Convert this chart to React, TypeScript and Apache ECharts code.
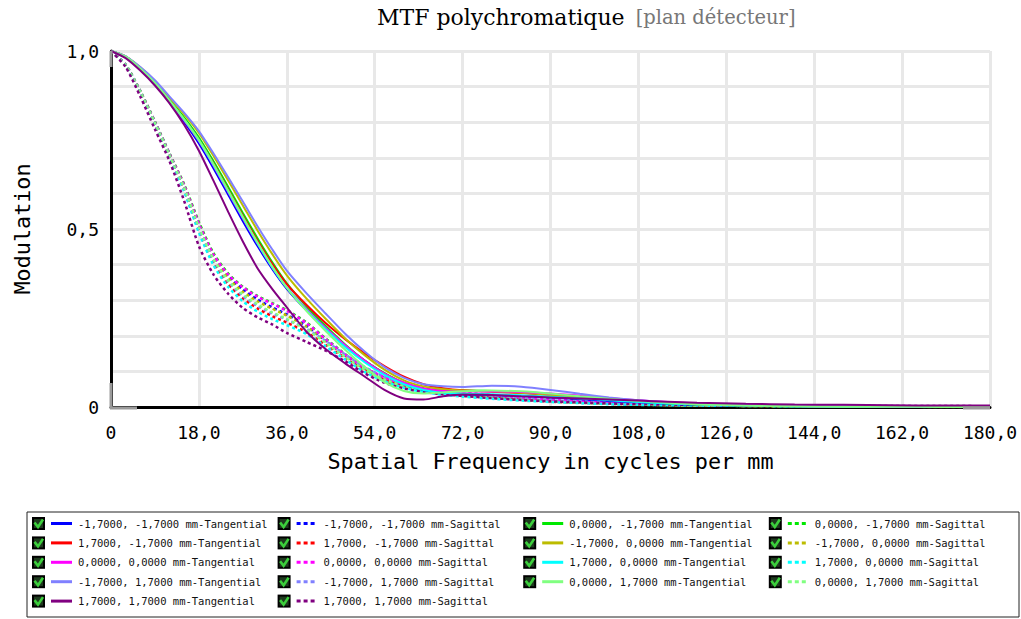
import React, { useEffect, useRef } from "react";
import * as echarts from "echarts";

// Spatial frequency (cycles/mm)
const FREQ = [0, 3, 6, 9, 12, 15, 18, 21, 24, 27, 30, 33, 36, 40, 44, 48, 52, 56, 60, 64, 68, 72, 78, 84, 90, 96, 102, 108, 114, 120, 130, 140, 150, 160, 170, 180];

const X_TICKS = [0, 18, 36, 54, 72, 90, 108, 126, 144, 162, 180];
const Y_LABELED = [0, 0.5, 1];

const FIELDS = [
  "-1,7000, -1,7000 mm",
  "0,0000, -1,7000 mm",
  "1,7000, -1,7000 mm",
  "-1,7000, 0,0000 mm",
  "0,0000, 0,0000 mm",
  "1,7000, 0,0000 mm",
  "-1,7000, 1,7000 mm",
  "0,0000, 1,7000 mm",
  "1,7000, 1,7000 mm",
];

// Tangential MTF per field
const T_M17_M17 = [1, 0.983, 0.95, 0.907, 0.855, 0.8, 0.74, 0.67, 0.596, 0.522, 0.452, 0.388, 0.332, 0.272, 0.22, 0.172, 0.13, 0.094, 0.066, 0.048, 0.04, 0.036, 0.034, 0.031, 0.027, 0.022, 0.017, 0.013, 0.009, 0.006, 0.004, 0.002, 0.001, 0.001, 0, 0];
const T_0_M17 = [1, 0.984, 0.952, 0.912, 0.863, 0.813, 0.757, 0.69, 0.618, 0.545, 0.474, 0.407, 0.347, 0.283, 0.227, 0.175, 0.13, 0.095, 0.068, 0.052, 0.046, 0.046, 0.045, 0.041, 0.035, 0.028, 0.021, 0.015, 0.01, 0.007, 0.004, 0.002, 0.001, 0.001, 0, 0];
const T_17_M17 = [1, 0.984, 0.951, 0.91, 0.86, 0.807, 0.75, 0.683, 0.61, 0.537, 0.467, 0.402, 0.345, 0.287, 0.235, 0.19, 0.15, 0.115, 0.085, 0.064, 0.053, 0.047, 0.043, 0.039, 0.034, 0.028, 0.022, 0.016, 0.011, 0.008, 0.005, 0.003, 0.002, 0.001, 0, 0];
const T_M17_0 = [1, 0.985, 0.954, 0.916, 0.869, 0.822, 0.77, 0.705, 0.636, 0.566, 0.496, 0.43, 0.37, 0.305, 0.247, 0.192, 0.145, 0.105, 0.075, 0.058, 0.05, 0.046, 0.044, 0.04, 0.034, 0.028, 0.022, 0.016, 0.011, 0.008, 0.005, 0.003, 0.002, 0.001, 0.001, 0];
const T_0_0 = [1, 0.984, 0.951, 0.909, 0.858, 0.805, 0.747, 0.678, 0.604, 0.53, 0.459, 0.393, 0.336, 0.275, 0.222, 0.173, 0.13, 0.094, 0.068, 0.052, 0.045, 0.043, 0.044, 0.042, 0.038, 0.032, 0.025, 0.019, 0.014, 0.01, 0.006, 0.003, 0.002, 0.001, 0, 0];
const T_17_0 = [1, 0.984, 0.951, 0.91, 0.86, 0.807, 0.749, 0.68, 0.606, 0.532, 0.46, 0.393, 0.335, 0.272, 0.218, 0.168, 0.125, 0.09, 0.064, 0.048, 0.04, 0.037, 0.036, 0.033, 0.029, 0.024, 0.019, 0.014, 0.01, 0.007, 0.004, 0.002, 0.001, 0.001, 0, 0];
const T_M17_17 = [1, 0.985, 0.955, 0.918, 0.872, 0.826, 0.775, 0.712, 0.645, 0.577, 0.508, 0.443, 0.383, 0.32, 0.262, 0.205, 0.155, 0.112, 0.082, 0.064, 0.058, 0.056, 0.06, 0.057, 0.048, 0.037, 0.027, 0.019, 0.013, 0.009, 0.005, 0.003, 0.002, 0.001, 0.001, 0];
const T_0_17 = [1, 0.984, 0.951, 0.91, 0.86, 0.808, 0.75, 0.682, 0.608, 0.534, 0.462, 0.395, 0.335, 0.27, 0.213, 0.16, 0.112, 0.07, 0.045, 0.038, 0.041, 0.044, 0.046, 0.044, 0.038, 0.03, 0.023, 0.017, 0.012, 0.008, 0.004, 0.002, 0.001, 0.001, 0, 0];
const T_17_17 = [1, 0.98, 0.945, 0.903, 0.853, 0.792, 0.72, 0.635, 0.548, 0.465, 0.39, 0.332, 0.28, 0.212, 0.162, 0.122, 0.085, 0.048, 0.024, 0.021, 0.03, 0.035, 0.034, 0.03, 0.027, 0.024, 0.021, 0.018, 0.015, 0.012, 0.009, 0.007, 0.006, 0.005, 0.004, 0.004];

// Sagittal MTF per field
const S_M17_M17 = [1, 0.961, 0.886, 0.8, 0.71, 0.62, 0.512, 0.425, 0.368, 0.33, 0.302, 0.28, 0.26, 0.228, 0.186, 0.145, 0.108, 0.08, 0.061, 0.048, 0.04, 0.034, 0.027, 0.021, 0.016, 0.012, 0.009, 0.007, 0.006, 0.005, 0.004, 0.003, 0.002, 0.002, 0.001, 0.001];
const S_0_M17 = [1, 0.962, 0.888, 0.802, 0.712, 0.625, 0.52, 0.432, 0.375, 0.338, 0.312, 0.292, 0.272, 0.238, 0.192, 0.148, 0.11, 0.083, 0.065, 0.052, 0.045, 0.04, 0.034, 0.028, 0.022, 0.018, 0.014, 0.011, 0.009, 0.007, 0.005, 0.003, 0.002, 0.002, 0.001, 0.001];
const S_17_M17 = [1, 0.959, 0.882, 0.794, 0.702, 0.608, 0.495, 0.405, 0.345, 0.305, 0.277, 0.255, 0.237, 0.21, 0.174, 0.137, 0.102, 0.076, 0.058, 0.045, 0.037, 0.032, 0.026, 0.02, 0.015, 0.012, 0.009, 0.007, 0.005, 0.004, 0.003, 0.002, 0.001, 0.001, 0, 0];
const S_M17_0 = [1, 0.96, 0.885, 0.798, 0.708, 0.618, 0.508, 0.42, 0.362, 0.324, 0.297, 0.276, 0.257, 0.226, 0.185, 0.144, 0.107, 0.08, 0.06, 0.047, 0.039, 0.034, 0.028, 0.022, 0.017, 0.013, 0.01, 0.008, 0.006, 0.005, 0.003, 0.002, 0.001, 0.001, 0, 0];
const S_0_0 = [1, 0.961, 0.886, 0.8, 0.71, 0.622, 0.515, 0.428, 0.372, 0.336, 0.31, 0.29, 0.27, 0.236, 0.19, 0.147, 0.11, 0.083, 0.064, 0.051, 0.044, 0.039, 0.033, 0.027, 0.021, 0.017, 0.013, 0.01, 0.008, 0.006, 0.004, 0.003, 0.002, 0.001, 0.001, 0.001];
const S_17_0 = [1, 0.959, 0.881, 0.792, 0.7, 0.605, 0.49, 0.398, 0.337, 0.297, 0.268, 0.247, 0.23, 0.205, 0.17, 0.133, 0.098, 0.072, 0.054, 0.042, 0.034, 0.029, 0.023, 0.018, 0.014, 0.011, 0.008, 0.006, 0.005, 0.004, 0.003, 0.002, 0.001, 0.001, 0, 0];
const S_M17_17 = [1, 0.96, 0.884, 0.797, 0.706, 0.614, 0.503, 0.413, 0.352, 0.312, 0.284, 0.263, 0.245, 0.22, 0.185, 0.147, 0.112, 0.085, 0.065, 0.051, 0.042, 0.036, 0.03, 0.024, 0.019, 0.015, 0.011, 0.009, 0.007, 0.005, 0.004, 0.003, 0.002, 0.001, 0.001, 0];
const S_0_17 = [1, 0.96, 0.884, 0.797, 0.706, 0.615, 0.505, 0.415, 0.355, 0.316, 0.288, 0.266, 0.247, 0.218, 0.18, 0.14, 0.104, 0.077, 0.058, 0.045, 0.037, 0.032, 0.026, 0.021, 0.016, 0.012, 0.009, 0.007, 0.005, 0.004, 0.003, 0.002, 0.001, 0.001, 0, 0];
const S_17_17 = [1, 0.955, 0.872, 0.78, 0.69, 0.578, 0.452, 0.372, 0.318, 0.278, 0.252, 0.232, 0.208, 0.183, 0.158, 0.128, 0.094, 0.068, 0.052, 0.042, 0.036, 0.031, 0.025, 0.02, 0.016, 0.013, 0.01, 0.008, 0.007, 0.006, 0.005, 0.004, 0.003, 0.003, 0.003, 0.002];

const TANGENTIAL = [T_M17_M17, T_0_M17, T_17_M17, T_M17_0, T_0_0, T_17_0, T_M17_17, T_0_17, T_17_17];
const SAGITTAL = [S_M17_M17, S_0_M17, S_17_M17, S_M17_0, S_0_0, S_17_0, S_M17_17, S_0_17, S_17_17];

const COLORS = ["#0000ff", "#00e800", "#ff0000", "#bcbc00", "#ff00ff", "#00ffff", "#8080ff", "#80ff80", "#800080"];

const MONO = "'DejaVu Sans Mono', 'Liberation Mono', monospace";
const SERIF = "'DejaVu Serif', 'Liberation Serif', serif";

function fmtX(v: number) {
  return v === 0 ? "0" : v.toFixed(1).replace(".", ",");
}
function fmtY(v: number) {
  for (const t of Y_LABELED) {
    if (Math.abs(v - t) < 1e-6) return t === 0 ? "0" : t.toFixed(1).replace(".", ",");
  }
  return "";
}

export default function App() {
  const ref = useRef<HTMLDivElement>(null);
  useEffect(() => {
    if (!ref.current) return;
    const chart = echarts.init(ref.current, null, { renderer: "svg" });

    const items: { name: string; color: string; dashed: boolean; data: number[][] }[] = [];
    FIELDS.forEach((f, i) => {
      items.push({ name: f + "-Tangential", color: COLORS[i], dashed: false, data: FREQ.map((x, k) => [x, TANGENTIAL[i][k]]) });
      items.push({ name: f + "-Sagittal", color: COLORS[i], dashed: true, data: FREQ.map((x, k) => [x, SAGITTAL[i][k]]) });
    });

    const series: any[] = items.map((it) => ({
      type: "line",
      name: it.name,
      data: it.data,
      showSymbol: false,
      smooth: 0.25,
      z: it.dashed ? 2 : 3,
      lineStyle: { color: it.color, width: it.dashed ? 2.5 : 2, type: it.dashed ? [3, 3] : "solid" },
      itemStyle: { color: it.color },
    }));

    // Legend drawn as graphic elements (checkbox + line sample + text)
    const legendEls: any[] = [
      { type: "rect", shape: { x: 27, y: 512, width: 992, height: 105 }, style: { fill: "#fff", stroke: "#222", lineWidth: 1 } },
    ];
    items.forEach((it, i) => {
      const col = i % 4;
      const row = Math.floor(i / 4);
      const x0 = 32 + col * 245.6;
      const yc = 523.5 + row * 19.4;
      legendEls.push({ type: "rect", shape: { x: x0, y: yc - 6.5, width: 13, height: 13 }, style: { fill: "#000" } });
      legendEls.push({ type: "rect", shape: { x: x0 + 2, y: yc - 4.5, width: 9, height: 9 }, style: { fill: "#1e3a1e" } });
      legendEls.push({
        type: "polyline",
        shape: { points: [[x0 + 2.5, yc - 1], [x0 + 6, yc + 3.5], [x0 + 11, yc - 4]] },
        style: { stroke: "#3ccf3c", lineWidth: 2.6, fill: null },
      });
      legendEls.push({
        type: "line",
        shape: { x1: x0 + 19, y1: yc, x2: x0 + 40, y2: yc },
        style: { stroke: it.color, lineWidth: 3, lineDash: it.dashed ? [4, 3] : null },
      });
      legendEls.push({
        type: "text",
        x: x0 + 46,
        y: yc,
        style: { text: it.name, font: `10.5px ${MONO}`, fill: "#111", verticalAlign: "middle", textVerticalAlign: "middle" },
      });
    });

    // gray end pieces on the axes
    const axisDeco: any[] = [
      { type: "rect", z: 100, shape: { x: 109.5, y: 51, width: 3, height: 16 }, style: { fill: "#9a9a9a" } },
      { type: "rect", z: 100, shape: { x: 109.5, y: 383, width: 3, height: 25 }, style: { fill: "#9a9a9a" } },
      { type: "rect", z: 100, shape: { x: 110, y: 406.5, width: 27, height: 3 }, style: { fill: "#9a9a9a" } },
      { type: "rect", z: 100, shape: { x: 963, y: 406.5, width: 27, height: 3 }, style: { fill: "#9a9a9a" } },
    ];

    chart.setOption({
      animation: false,
      backgroundColor: "#fff",
      title: {
        text: "{a|MTF polychromatique} {b|[plan détecteur]}",
        left: 372,
        top: 1,
        textStyle: {
          fontWeight: "normal",
          rich: {
            a: { fontFamily: SERIF, fontSize: 22, fontWeight: "normal", color: "#000", padding: [0, 6, 0, 0] },
            b: { fontFamily: SERIF, fontSize: 19.5, fontWeight: "normal", color: "#777" },
          },
        },
      },
      grid: { left: 111, right: 31, top: 51, bottom: 212, containLabel: false },
      xAxis: {
        type: "value",
        min: 0,
        max: 180,
        interval: 18,
        name: "Spatial Frequency in cycles per mm",
        nameLocation: "middle",
        nameGap: 43,
        nameTextStyle: { fontFamily: MONO, fontSize: 21.8, color: "#000" },
        axisLine: { show: true, lineStyle: { color: "#000", width: 3 } },
        axisTick: { show: false },
        axisLabel: { formatter: (v: number) => (X_TICKS.includes(v) ? fmtX(v) : ""), fontFamily: MONO, fontSize: 18, color: "#000", margin: 16 },
        splitLine: { show: true, lineStyle: { color: "#e8e8e8", width: 3 } },
      },
      yAxis: {
        type: "value",
        min: 0,
        max: 1,
        interval: 0.1,
        name: "Modulation",
        nameLocation: "middle",
        nameGap: 78,
        nameTextStyle: { fontFamily: MONO, fontSize: 21.8, color: "#000" },
        axisLine: { show: true, lineStyle: { color: "#000", width: 3 } },
        axisTick: { show: false },
        axisLabel: { formatter: fmtY, fontFamily: MONO, fontSize: 18, color: "#000", margin: 12 },
        splitLine: { show: true, lineStyle: { color: "#e8e8e8", width: 3 } },
      },
      graphic: [...axisDeco, ...legendEls],
      series,
    });
    return () => chart.dispose();
  }, []);
  return <div ref={ref} style={{ position: "fixed", left: 0, top: 0, width: 1021, height: 619 }} />;
}
